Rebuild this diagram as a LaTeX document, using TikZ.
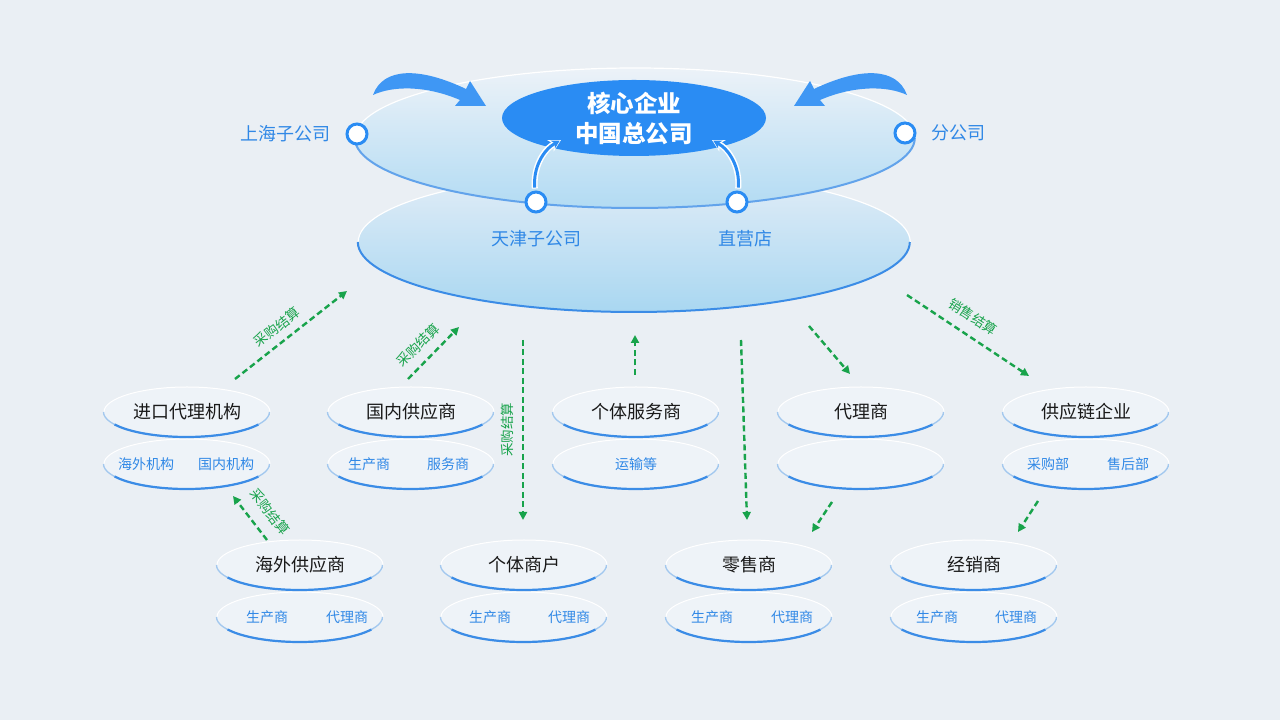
\documentclass[tikz,border=0pt]{standalone}
\usepackage{fontspec}
\usepackage{tikz}
\usetikzlibrary{positioning,shapes.geometric,arrows.meta}
\newfontfamily\cjk{Noto Sans CJK SC}

\definecolor{bgcol}{HTML}{EAEFF4}
\definecolor{tierfill}{HTML}{EEF3F8}
\definecolor{rimmid}{HTML}{A3C8EE}
\definecolor{ringcol}{HTML}{3B8CE6}
\definecolor{corecol}{HTML}{2A8CF3}
\definecolor{txtblue}{HTML}{3088E6}
\definecolor{settlecol}{HTML}{18A34B}
\definecolor{basetop}{HTML}{E2EDF7}
\definecolor{basebot}{HTML}{A9D7F1}
\definecolor{decktop}{HTML}{ECF2F8}
\definecolor{deckbot}{HTML}{B2DBF3}

\tikzset{
  tier/.style={ellipse, minimum width=166pt, minimum height=50pt, inner sep=0pt,
    fill=tierfill, draw=white, line width=1pt, text=black!90,
    font=\cjk\fontsize{18}{18}\selectfont},
  subtxt/.style={text=txtblue, font=\cjk\fontsize{14}{14}\selectfont},
  hub/.style={circle, draw=corecol, line width=3pt, fill=white, minimum size=20pt, inner sep=0pt},
  hubtxt/.style={text=txtblue, font=\cjk\fontsize{18}{18}\selectfont},
  settle/.style={draw=settlecol, line width=2.4pt, dash pattern=on 6pt off 3.5pt,
    -{Triangle[length=8pt,width=8pt]}},
  settletxt/.style={text=settlecol, font=\cjk\fontsize{13.5}{13.5}\selectfont, inner sep=1pt},
  platform/.style={ellipse, inner sep=0pt},
}

\begin{document}
\begin{tikzpicture}[x=1pt, y=1pt]
    \useasboundingbox (0,0) rectangle (1280,720);
    \fill[bgcol] (0,0) rectangle (1280,720);

    % piattaforma a due livelli
    \node[platform, minimum width=552pt, minimum height=140pt, top color=basetop, bottom color=basebot] (base) at (634,478) {};
    \draw[white, line width=1.2pt] (base.east) arc[start angle=0, end angle=180, x radius=276pt, y radius=70pt];
    \draw[ringcol, line width=2pt] (base.west) arc[start angle=180, end angle=360, x radius=276pt, y radius=70pt];
    \node[platform, minimum width=560pt, minimum height=140pt, top color=decktop, bottom color=deckbot] (deck) at (635,582) {};
    \draw[white, line width=1.2pt] (deck.east) arc[start angle=0, end angle=180, x radius=280pt, y radius=70pt];
    \draw[ringcol!80, line width=2pt] (deck.west) arc[start angle=180, end angle=360, x radius=280pt, y radius=70pt];

    \node[platform, minimum width=264pt, minimum height=76pt, fill=corecol, text=white,
        align=center, font=\cjk\bfseries\fontsize{23.5}{30}\selectfont] (core) at (634,602) {核心企业\\中国总公司};

    % frecce grandi
    \fill[corecol!90] (373,625) .. controls (383,653) and (420,653) .. (466,631)
        -- (470,639) -- (486,614) -- (455,614) -- (460,620)
        .. controls (425,635) and (392,634) .. (373,625);
    \begin{scope}[xshift=1280pt, xscale=-1]
    \fill[corecol!90] (373,625) .. controls (383,653) and (420,653) .. (466,631)
        -- (470,639) -- (486,614) -- (455,614) -- (460,620)
        .. controls (425,635) and (392,634) .. (373,625);
    \end{scope}

    \node[hub] (sh) at (357,586) {};
    \node[hub] (fg) at (905,587) {};
    \node[hub] (tj) at (536,518) {};
    \node[hub] (zy) at (737,518) {};
    \node[hubtxt, left=11pt of sh] (shl) {上海子公司};
    \node[hubtxt, right=11pt of fg] (fgl) {分公司};
    \node[hubtxt, below=13pt of tj] (tjl) {天津子公司};
    \node[hubtxt, below=13pt of zy, xshift=8pt] (zyl) {直营店};

    \coordinate (tjend) at (561,580);
    \coordinate (zyend) at (712,580);
    \draw[white, line width=6pt, shorten <=2pt, -{Stealth[length=12pt,width=13pt]}] (tj) .. controls (533,552) and (543,570) .. (tjend);
    \draw[corecol, line width=3pt, shorten <=3pt, shorten >=1.5pt, -{Stealth[length=8pt,width=9pt]}] (tj) .. controls (533,552) and (543,570) .. (tjend);
    \draw[white, line width=6pt, shorten <=2pt, -{Stealth[length=12pt,width=13pt]}] (zy) .. controls (740,552) and (730,570) .. (zyend);
    \draw[corecol, line width=3pt, shorten <=3pt, shorten >=1.5pt, -{Stealth[length=8pt,width=9pt]}] (zy) .. controls (740,552) and (730,570) .. (zyend);

    % prima fila
    \node[tier] (imp) at (187,308) {进口代理机构};
    \node[tier, below=1pt of imp] (imps) {};
    \node[subtxt] (imp1) at ([xshift=-41pt]imps.center) {海外机构};
    \node[subtxt] (imp2) at ([xshift=39pt]imps.center) {国内机构};

    \node[tier] (dom) at (411,308) {国内供应商};
    \node[tier, below=1pt of dom] (doms) {};
    \node[subtxt] (dom1) at ([xshift=-42pt]doms.center) {生产商};
    \node[subtxt] (dom2) at ([xshift=37pt]doms.center) {服务商};

    \node[tier] (svc) at (636,308) {个体服务商};
    \node[tier, below=1pt of svc] (svcs) {};
    \node[subtxt] (svc1) at (svcs.center) {运输等};

    \node[tier] (agt) at (861,308) {代理商};
    \node[tier, below=1pt of agt] (agts) {};

    \node[tier] (scm) at (1086,308) {供应链企业};
    \node[tier, below=1pt of scm] (scms) {};
    \node[subtxt] (scm1) at ([xshift=-38pt]scms.center) {采购部};
    \node[subtxt] (scm2) at ([xshift=42pt]scms.center) {售后部};

    % seconda fila
    \node[tier] (ovs) at (300,155) {海外供应商};
    \node[tier, below=1pt of ovs] (ovss) {};
    \node[subtxt] (ovs1) at ([xshift=-33pt]ovss.center) {生产商};
    \node[subtxt] (ovs2) at ([xshift=47pt]ovss.center) {代理商};

    \node[tier] (ind) at (524,155) {个体商户};
    \node[tier, below=1pt of ind] (inds) {};
    \node[subtxt] (ind1) at ([xshift=-34pt]inds.center) {生产商};
    \node[subtxt] (ind2) at ([xshift=45pt]inds.center) {代理商};

    \node[tier] (ret) at (749,155) {零售商};
    \node[tier, below=1pt of ret] (rets) {};
    \node[subtxt] (ret1) at ([xshift=-37pt]rets.center) {生产商};
    \node[subtxt] (ret2) at ([xshift=43pt]rets.center) {代理商};

    \node[tier] (dst) at (974,155) {经销商};
    \node[tier, below=1pt of dst] (dsts) {};
    \node[subtxt] (dst1) at ([xshift=-37pt]dsts.center) {生产商};
    \node[subtxt] (dst2) at ([xshift=42pt]dsts.center) {代理商};

    \foreach \n in {imp,imps,dom,doms,svc,svcs,agt,agts,scm,scms,ovs,ovss,ind,inds,ret,rets,dst,dsts} {
        \draw[rimmid, line width=1.4pt] (\n.west) arc[start angle=180, end angle=360, x radius=83pt, y radius=25pt];
        \draw[ringcol, line width=2.2pt] (\n.west) ++(11.1pt,-12.5pt) arc[start angle=210, end angle=330, x radius=83pt, y radius=25pt];
    }

    % frecce di regolamento
    \coordinate (g1a) at (235,341);  \coordinate (g1b) at (347,429);
    \coordinate (g2a) at (408,341);  \coordinate (g2b) at (459,393);
    \coordinate (g3a) at (523,380);  \coordinate (g3b) at (523,200);
    \coordinate (g4a) at (635,345);  \coordinate (g4b) at (635,385);
    \coordinate (g5a) at (741,380);  \coordinate (g5b) at (747,200);
    \coordinate (g6a) at (809,394);  \coordinate (g6b) at (850,346);
    \coordinate (g7a) at (907,425);  \coordinate (g7b) at (1029,344);
    \coordinate (g8a) at (267,180);  \coordinate (g8b) at (233,224);
    \coordinate (g9a) at (832,218);  \coordinate (g9b) at (812,188);
    \coordinate (g10a) at (1038,219); \coordinate (g10b) at (1018,188);

    \draw[settle] (g1a) -- (g1b);
    \draw[settle] (g2a) -- (g2b);
    \draw[settle] (g3a) -- (g3b);
    \draw[settle] (g4a) -- (g4b);
    \draw[settle] (g5a) -- (g5b);
    \draw[settle] (g6a) -- (g6b);
    \draw[settle] (g7a) -- (g7b);
    \draw[settle] (g8a) -- (g8b);
    \draw[settle] (g9a) -- (g9b);
    \draw[settle] (g10a) -- (g10b);

    \node[settletxt, rotate=38] (lab1) at (277,393) {采购结算};
    \node[settletxt, rotate=45] (lab2) at (418,375) {采购结算};
    \node[settletxt, rotate=90] (lab3) at (507,290) {采购结算};
    \node[settletxt, rotate=-33] (lab7) at (973,403) {销售结算};
    \node[settletxt, rotate=-52] (lab8) at (270,208) {采购结算};

\end{tikzpicture}
\end{document}
